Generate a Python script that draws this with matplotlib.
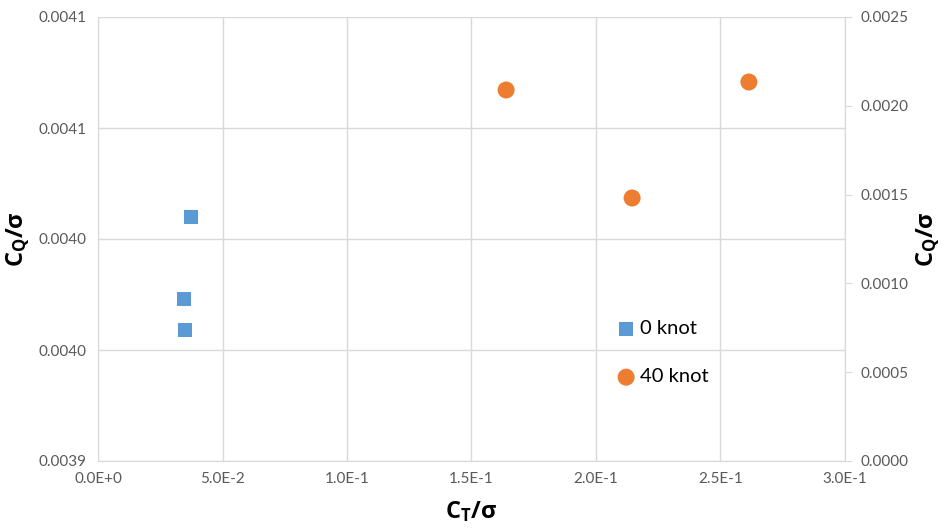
import matplotlib
matplotlib.use("Agg")
import matplotlib.pyplot as plt

plt.rcParams['font.family'] = ['Lato', 'DejaVu Sans']
plt.rcParams['mathtext.fontset'] = 'custom'
plt.rcParams['mathtext.rm'] = 'Open Sans'
plt.rcParams['mathtext.bf'] = 'Open Sans:bold'
plt.rcParams['mathtext.it'] = 'Open Sans:italic'

# Data
ct_0knot = [0.0374, 0.0345, 0.0349]
cq_0knot = [0.004010, 0.003973, 0.003959]
ct_40knot = [0.1639, 0.2145, 0.2614]
cq_40knot = [0.002089, 0.001481, 0.002134]

x_ticks = [0.0, 0.05, 0.10, 0.15, 0.20, 0.25, 0.30]
x_labels = ["0.0E+0", "5.0E-2", "1.0E-1", "1.5E-1", "2.0E-1", "2.5E-1", "3.0E-1"]
yl_ticks = [0.0039, 0.00395, 0.0040, 0.00405, 0.0041]
yl_labels = ["0.0039", "0.0040", "0.0040", "0.0041", "0.0041"]
yr_ticks = [0.0, 0.0005, 0.0010, 0.0015, 0.0020, 0.0025]
yr_labels = ["0.0000", "0.0005", "0.0010", "0.0015", "0.0020", "0.0025"]

blue = '#5B9BD5'
orange = '#ED7D31'
grid_c = '#D9D9D9'
tick_c = '#595959'

fig = plt.figure(figsize=(9.44, 5.29), dpi=100)
ax = fig.add_axes([98/944, 1 - 461/529, (845-98)/944, (461-17)/529])
ax2 = ax.twinx()

ax.set_xlim(0, 0.3)
ax.set_ylim(0.0039, 0.0041)
ax2.set_ylim(0, 0.0025)

ax.set_xticks(x_ticks)
ax.set_xticklabels(x_labels)
ax.set_yticks(yl_ticks)
ax.set_yticklabels(yl_labels)
ax2.set_yticks(yr_ticks)
ax2.set_yticklabels(yr_labels)

ax.grid(True, color=grid_c, linewidth=1)
ax.set_axisbelow(True)

for a in (ax, ax2):
    for s in a.spines.values():
        s.set_color(grid_c)
    a.spines['top'].set_visible(False)
ax2.spines['left'].set_visible(False)
ax2.spines['bottom'].set_visible(False)

ax.tick_params(axis='both', length=0, labelsize=11, labelcolor=tick_c, pad=8)
ax2.tick_params(axis='y', length=5, color=grid_c, labelsize=11, labelcolor=tick_c, pad=6)

h1 = ax.scatter(ct_0knot, cq_0knot, marker='s', s=110, color=blue, zorder=3, label='0 knot', edgecolors='none')
h2 = ax2.scatter(ct_40knot, cq_40knot, marker='o', s=150, color=orange, zorder=3, label='40 knot', edgecolors='none')

ax.set_xlabel(r"$\mathbf{C_T/σ}$", fontsize=17, labelpad=9)
ax.set_ylabel(r"$\mathbf{C_Q/σ}$", fontsize=17, labelpad=4)
ax2.set_ylabel(r"$\mathbf{C_Q/σ}$", fontsize=17, rotation=90, labelpad=5)

leg = fig.legend(handles=[h1, h2], labels=['0 knot', '40 knot'], loc='upper left',
                 bbox_to_anchor=(608/944, 1 - 312/529), frameon=False, fontsize=14.5,
                 labelspacing=1.55, handletextpad=0.2, handlelength=1.0, borderaxespad=0)

fig.savefig("out.png", dpi=100)
